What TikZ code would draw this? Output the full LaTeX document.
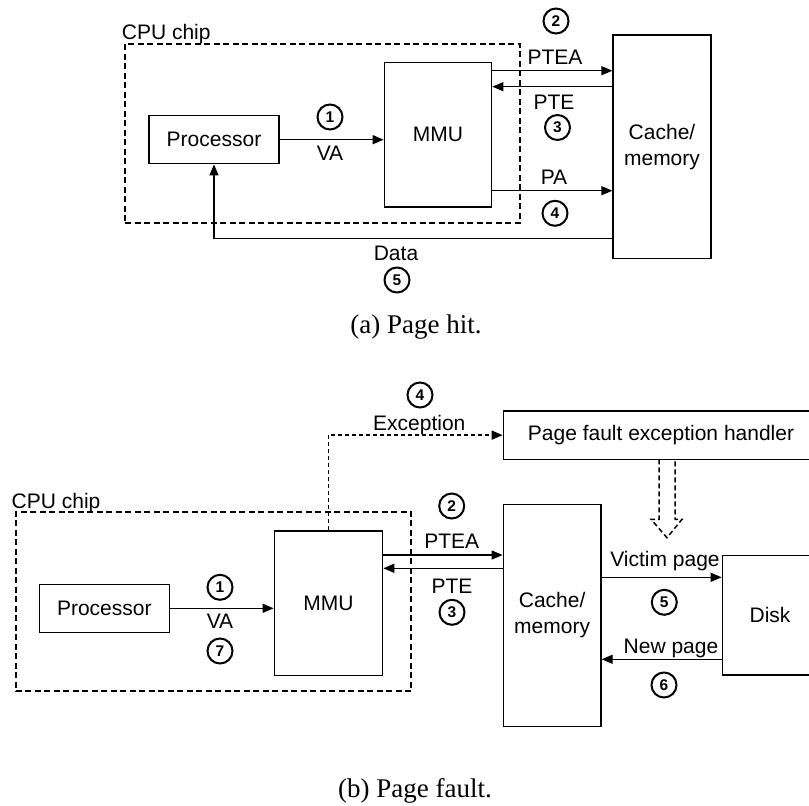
\documentclass[tikz,border=0pt]{standalone}
\usepackage{fontspec}
\setmainfont{Liberation Sans}
\newfontfamily\capfont{Liberation Serif}
\usetikzlibrary{arrows.meta}

\tikzset{
  blk/.style={draw,line width=1.3pt,inner sep=0pt,align=center,font=\fontsize{21}{26}\selectfont},
  chip/.style={draw,dash pattern=on 6pt off 3.5pt,line width=2pt,inner sep=0pt},
  num/.style={circle,draw,line width=2pt,minimum size=25pt,inner sep=0pt,font=\fontsize{15.5}{16}\selectfont\bfseries},
  lbl/.style={inner sep=0pt,font=\fontsize{21}{25}\selectfont},
  arr/.style={-{Triangle[length=11pt,width=9pt]},line width=1.3pt},
  excarr/.style={-{Triangle[length=11pt,width=9pt]},line width=1.5pt,dash pattern=on 4pt off 3pt},
  captxt/.style={inner sep=0pt,anchor=base,font=\capfont\fontsize{27}{30}\selectfont},
}

\begin{document}
\begin{tikzpicture}[x=1pt,y=-1pt]
        \useasboundingbox (0,0) rectangle (809,806);
        \clip (0,0) rectangle (809,806);
        % (a) page hit
        \node[lbl,anchor=base west] (chipAtxt) at (121.7,39) {CPU chip};
        \node[chip,minimum width=395pt,minimum height=178.7pt] (chipA) at (322.5,133.35) {};
        \node[blk,minimum width=130pt,minimum height=48pt] (procA) at (214,139.7) {Processor};
        \node[blk,minimum width=107.4pt,minimum height=144.7pt] (mmuA) at (438,134.65) {MMU};
        \node[blk,minimum width=98pt,minimum height=223.3pt] (cacheA) at (662,146.65) {Cache/\\memory};
        \coordinate (pteaA) at (0,70.7);
        \coordinate (pteA) at (0,86.7);
        \coordinate (paA) at (0,190.7);
        \coordinate (dataA) at (0,238.5);
        \draw[arr] (procA) -- (procA -| mmuA.west);
        \node[num] (n1A) at (330,117) {1};
        \node[lbl,anchor=base] (vaA) at (330,160.7) {VA};
        \draw[arr] (mmuA.east |- pteaA) -- (cacheA.west |- pteaA);
        \draw[arr] (cacheA.west |- pteA) -- (mmuA.east |- pteA);
        \draw[arr] (mmuA.east |- paA) -- (cacheA.west |- paA);
        \node[num] (n2A) at (556,21) {2};
        \node[lbl,anchor=base] (pteaAtxt) at (555,64) {PTEA};
        \node[lbl,anchor=base] (pteAtxt) at (554,109.3) {PTE};
        \node[num] (n3A) at (557.5,127.5) {3};
        \node[lbl,anchor=base] (paAtxt) at (554,184) {PA};
        \node[num] (n4A) at (555,213.3) {4};
        \draw[arr] (cacheA.west |- dataA) -| (procA.south);
        \node[lbl,anchor=base] (dataAtxt) at (396,260) {Data};
        \node[num] (n5A) at (397,280) {5};
        \node[captxt] (capA) at (416,333) {(a) Page hit.};
        % (b) page fault
        \node[lbl,anchor=base west] (chipBtxt) at (11.5,508) {CPU chip};
        \node[chip,minimum width=395.6pt,minimum height=179.3pt] (chipB) at (213.5,601.65) {};
        \node[blk,minimum width=130pt,minimum height=48pt] (procB) at (104.3,608.3) {Processor};
        \node[blk,minimum width=108.4pt,minimum height=144.3pt] (mmuB) at (328.5,603.15) {MMU};
        \node[blk,minimum width=97.7pt,minimum height=222.2pt] (cacheB) at (552.15,615.4) {Cache/\\memory};
        \node[blk,minimum width=315.4pt,minimum height=48.3pt] (handler) at (661,435.15) {Page fault exception handler};
        \node[blk,minimum width=95.4pt,minimum height=119.3pt] (disk) at (770,615.35) {Disk};
        \coordinate (pteaB) at (0,555);
        \coordinate (pteB) at (0,568.3);
        \coordinate (victim) at (0,577.3);
        \coordinate (newpg) at (0,659.3);
        \draw[arr] (procB) -- (procB -| mmuB.west);
        \node[num] (n1B) at (220,587.3) {1};
        \node[lbl,anchor=base] (vaB) at (220,628.3) {VA};
        \node[num] (n7B) at (220,651) {7};
        \draw[excarr] (mmuB.north) |- (handler.west);
        \node[lbl,anchor=base] (excB) at (419.3,430) {Exception};
        \node[num] (n4B) at (420,395) {4};
        \draw[arr] (mmuB.east |- pteaB) -- (cacheB.west |- pteaB);
        \draw[arr] (cacheB.west |- pteB) -- (mmuB.east |- pteB);
        \node[num] (n2B) at (451.7,506) {2};
        \node[lbl,anchor=base] (pteaBtxt) at (451.7,548.3) {PTEA};
        \node[lbl,anchor=base] (pteBtxt) at (452,593.3) {PTE};
        \node[num] (n3B) at (452,612.3) {3};
        \draw[arr] (cacheB.east |- victim) -- (disk.west |- victim);
        \draw[arr] (disk.west |- newpg) -- (cacheB.east |- newpg);
        \node[lbl,anchor=base] (victimtxt) at (665,566) {Victim page};
        \node[num] (n5B) at (664.3,602.3) {5};
        \node[lbl,anchor=base] (newpgtxt) at (671,653.3) {New page};
        \node[num] (n6B) at (664,685) {6};
        \draw[line width=1.5pt,dash pattern=on 5pt off 3pt] (659,459.3) -- (659,519.3) -- (651,519.3) -- (667,537.7) -- (682,519.3) -- (675,519.3) -- (675,459.3);
        \node[captxt] (capB) at (415,797) {(b) Page fault.};
    \end{tikzpicture}
\end{document}
